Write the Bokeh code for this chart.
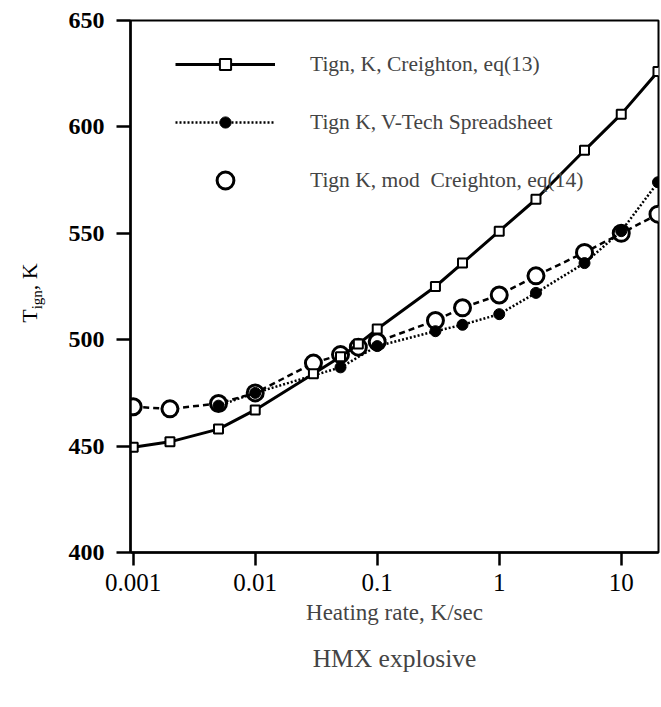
from bokeh.plotting import figure
from bokeh.layouts import row
from bokeh.models import (FixedTicker, CustomJSTickFormatter, Legend, LegendItem,
                          Title, Range1d, Div)
from bokeh.embed import file_html
from bokeh.resources import INLINE

# Ignition temperature of HMX vs heating rate
rate_creighton = [0.001, 0.002, 0.005, 0.01, 0.03, 0.05, 0.07, 0.1, 0.3, 0.5, 1, 2, 5, 10, 20]
tign_creighton = [449.5, 452, 458, 467, 484, 492, 498, 505, 525, 536, 551, 566, 589, 606, 626]

rate_vtech = [0.005, 0.01, 0.05, 0.1, 0.3, 0.5, 1, 2, 5, 10, 20]
tign_vtech = [469, 475, 487, 497, 504, 507, 512, 522, 536, 551, 574]

rate_mod = [0.001, 0.002, 0.005, 0.01, 0.03, 0.05, 0.07, 0.1, 0.3, 0.5, 1, 2, 5, 10, 20]
tign_mod = [468.5, 467.5, 470, 475, 489, 493, 496.5, 499, 509, 515, 521, 530, 541, 550, 559]

x_ticks = [0.001, 0.01, 0.1, 1, 10]
y_ticks = [400, 450, 500, 550, 600, 650]

label_creighton = "Tign, K, Creighton, eq(13)"
label_vtech = "Tign K, V-Tech Spreadsheet"
label_mod = "Tign K, mod  Creighton, eq(14)"

SERIF = "Liberation Serif"

# y-axis title with a real subscript, rotated about its own centre
ylab_html = (
    '<div style="position:absolute; left:0px; top:281px; width:60px; height:24px; '
    'text-align:center; transform:rotate(-90deg); transform-origin:50% 50%; '
    "white-space:nowrap; font-family:'Liberation Serif'; font-size:22px; "
    'line-height:24px; color:black;">'
    'T<sub style="font-size:15px; line-height:1;">ign</sub>, K</div>'
)
ylab = Div(text=ylab_html, width=60, height=707, margin=0,
           styles={"position": "relative", "background": "white"})

p = figure(width=601, height=707, x_axis_type="log",
           x_range=Range1d(0.00095, 20.2), y_range=Range1d(400, 650),
           output_backend="svg", toolbar_location=None,
           min_border_left=70, min_border_right=3,
           min_border_top=20, min_border_bottom=155)
p.grid.visible = False
p.outline_line_color = "black"
p.outline_line_width = 2
p.background_fill_color = "white"
p.border_fill_color = "white"

# axes
p.xaxis.ticker = FixedTicker(ticks=x_ticks)
p.xaxis.formatter = CustomJSTickFormatter(code="return tick.toString();")
p.yaxis.ticker = FixedTicker(ticks=y_ticks)
for ax in (p.xaxis, p.yaxis):
    ax.axis_line_width = 2.5
    ax.axis_line_color = "black"
    ax.major_tick_line_width = 2.5
    ax.major_tick_line_color = "black"
    ax.major_tick_in = 0
    ax.minor_tick_line_color = None
    ax.major_label_text_font = SERIF
    ax.major_label_text_color = "black"
p.xaxis.major_tick_out = 13
p.yaxis.major_tick_out = 14
p.xaxis.major_label_text_font_size = "25px"
p.yaxis.major_label_text_font_size = "24px"
p.yaxis.major_label_text_font_style = "bold"
p.xaxis.major_label_standoff = 8
p.yaxis.major_label_standoff = 12

p.xaxis.axis_label = "Heating rate, K/sec"
p.xaxis.axis_label_text_font = SERIF
p.xaxis.axis_label_text_font_style = "normal"
p.xaxis.axis_label_text_font_size = "23px"
p.xaxis.axis_label_standoff = 6

# caption under the x axis
cap = Title(text="HMX explosive", align="center", text_font=SERIF,
            text_font_size="25.5px", text_font_style="normal", standoff=28)
p.add_layout(cap, "below")

# series
r_mod_line = p.line(rate_mod, tign_mod, line_color="black", line_width=2.5,
                    line_dash="6 4")
r_mod_pts = p.scatter(rate_mod, tign_mod, marker="circle", size=16,
                      fill_color="white", line_color="black", line_width=3)

r_vt_line = p.line(rate_vtech, tign_vtech, line_color="black", line_width=2.5,
                   line_dash="2 2")
r_vt_pts = p.scatter(rate_vtech, tign_vtech, marker="circle", size=11,
                     fill_color="black", line_color="black")

r_cr_line = p.line(rate_creighton, tign_creighton, line_color="black", line_width=3)
r_cr_pts = p.scatter(rate_creighton, tign_creighton, marker="square", size=9,
                     fill_color="white", line_color="black", line_width=2)

legend_kw = dict(padding=0, glyph_width=100, label_standoff=35,
                 label_text_font=SERIF, label_text_font_size="21.5px",
                 border_line_color=None, background_fill_alpha=0)
legend_lines = Legend(items=[
    LegendItem(label=label_creighton, renderers=[r_cr_line, r_cr_pts]),
    LegendItem(label=label_vtech, renderers=[r_vt_line, r_vt_pts]),
], location=(45, 416), spacing=30, glyph_height=28, label_height=28, **legend_kw)
legend_mod = Legend(items=[
    LegendItem(label=label_mod, renderers=[r_mod_pts]),
], location=(45, 351), spacing=0, glyph_height=42, label_height=42, **legend_kw)
p.add_layout(legend_lines, "center")
p.add_layout(legend_mod, "center")

layout = row(ylab, p, spacing=0)
open("out.html", "w").write(file_html(layout, INLINE))
